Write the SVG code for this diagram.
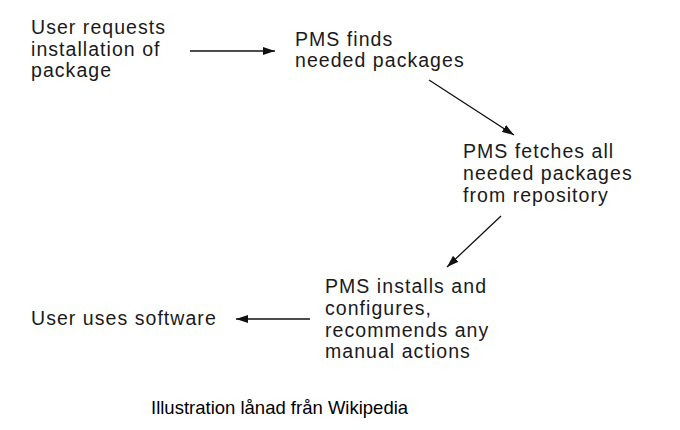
<svg xmlns="http://www.w3.org/2000/svg" width="680" height="430" viewBox="0 0 680 430">
<defs>
<marker id="ah" viewBox="0 0 12 8" refX="12" refY="4" markerWidth="12" markerHeight="8" markerUnits="userSpaceOnUse" orient="auto">
<path d="M0,0 L12,4 L0,8 Z" fill="#111"/>
</marker>
<style>
.t{font-family:"Liberation Sans",Arial,sans-serif;font-size:19.5px;letter-spacing:1.05px;fill:#1a1a1a}
.c{font-family:"Liberation Sans",Arial,sans-serif;font-size:18.5px;fill:#000}
.e{stroke:#111;stroke-width:1.3;fill:none;marker-end:url(#ah)}
</style>
</defs>
<rect width="680" height="430" fill="#fff"/>
<g id="n1"><text class="t" x="31" y="34">User requests</text><text class="t" x="31" y="56">installation of</text><text class="t" x="31" y="77">package</text></g>
<g id="n2"><text class="t" x="295" y="46">PMS finds</text><text class="t" x="295" y="67">needed packages</text></g>
<g id="n3"><text class="t" x="463" y="158">PMS fetches all</text><text class="t" x="463" y="180">needed packages</text><text class="t" x="463" y="202">from repository</text></g>
<g id="n4"><text class="t" x="325" y="293">PMS installs and</text><text class="t" x="325" y="315">configures,</text><text class="t" x="325" y="337">recommends any</text><text class="t" x="325" y="358">manual actions</text></g>
<g id="n5"><text class="t" x="31" y="325">User uses software</text></g>
<g id="edges">
<line class="e" x1="190" y1="51" x2="275" y2="51"/>
<line class="e" x1="429" y1="80" x2="514" y2="135"/>
<line class="e" x1="501" y1="216" x2="447" y2="267"/>
<line class="e" x1="310" y1="319" x2="236" y2="319"/>
</g>
<text class="c" x="151" y="414">Illustration lånad från Wikipedia</text>
</svg>
